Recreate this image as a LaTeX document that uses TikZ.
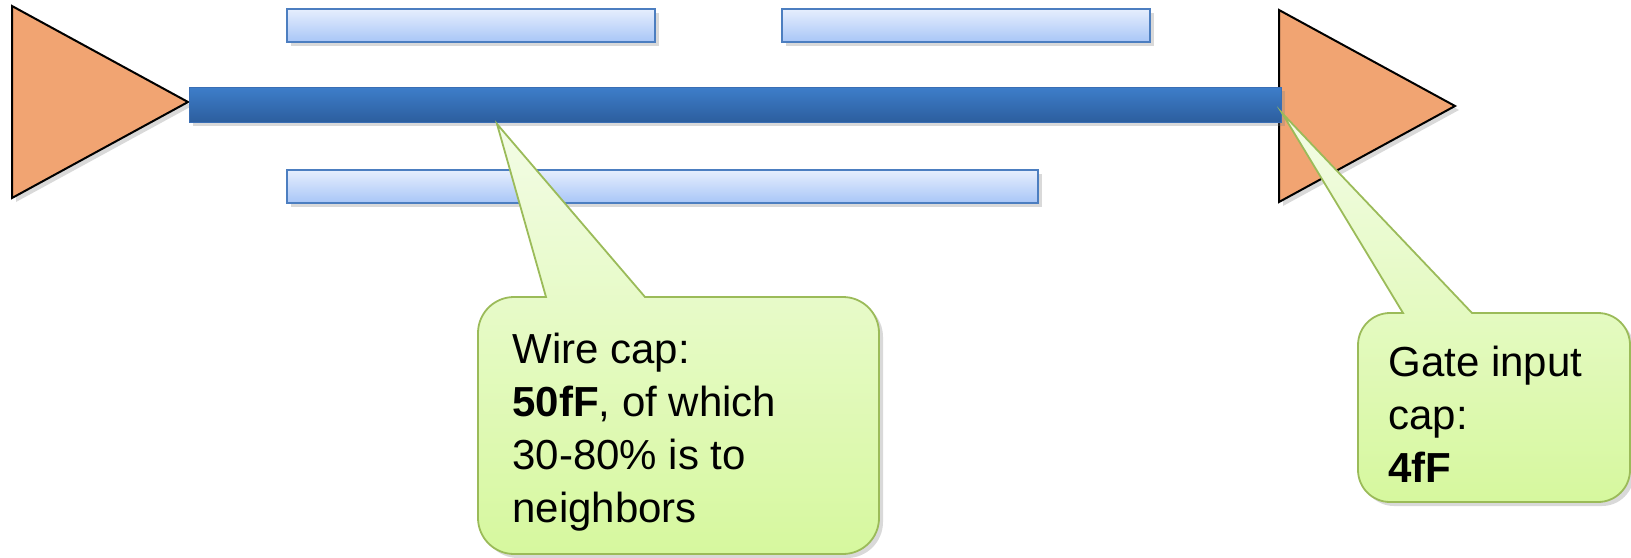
\documentclass[tikz,border=0pt]{standalone}
\usepackage{fontspec}
\setmainfont{Liberation Sans}
\usetikzlibrary{shadows}
\definecolor{gatefill}{RGB}{241,164,114}
\definecolor{wiretop}{RGB}{62,126,202}
\definecolor{wirebot}{RGB}{44,94,158}
\definecolor{wireline}{RGB}{58,110,180}
\definecolor{thintop}{RGB}{230,238,253}
\definecolor{thinbot}{RGB}{168,198,247}
\definecolor{thinline}{RGB}{76,126,192}
\definecolor{notetop}{RGB}{243,252,230}
\definecolor{notebot}{RGB}{214,248,158}
\definecolor{noteline}{RGB}{155,187,89}
\tikzset{
  softshadow/.style={drop shadow={opacity=0.3,shadow xshift=2pt,shadow yshift=-2pt}},
  gate/.style={fill=gatefill,draw=black,line width=1pt,line join=miter,softshadow},
  wire/.style={top color=wiretop,bottom color=wirebot,draw=wireline,line width=0.5pt,softshadow},
  thinwire/.style={top color=thintop,bottom color=thinbot,draw=thinline,line width=0.8pt,softshadow},
  note/.style={top color=notetop,bottom color=notebot,draw=noteline,line width=0.9pt,softshadow},
  notetext/.style={anchor=base west,align=left,inner sep=0pt,font=\fontsize{21pt}{26.5pt}\selectfont}
}
\begin{document}
\begin{tikzpicture}[x=0.5pt,y=-0.5pt]
\useasboundingbox (0,0) rectangle (1631,557);
% neighbour wires
\foreach \x/\y/\e in {287/9/655, 782/9/1150, 287/170/1038}
   \draw[thinwire] (\x,\y) rectangle (\e,\y+33);

% driver and receiver
\foreach \x/\y in {12/6, 1279/10}
   \draw[gate] (\x,\y) -- ++(176,96) -- ++(-176,96) -- cycle;

\draw[wire] (189,87) rectangle (1281,122);

\coordinate (wtip) at (497,124);
\coordinate (gtip) at (1282,113);

% callouts
\draw[note] (478,430) [rounded corners=18pt] -- (478,297)
   [sharp corners] -- (546,297) -- (wtip) -- (645,297)
   [rounded corners=18pt] -- (879,297) -- (879,554) -- (478,554)
   [sharp corners] -- cycle;
\draw[note] (1358,410) [rounded corners=16pt] -- (1358,313)
   [sharp corners] -- (1403,313) -- (gtip) -- (1472,313)
   [rounded corners=16pt] -- (1630,313) -- (1630,502) -- (1358,502)
   [sharp corners] -- cycle;

\node[notetext] (wirecap) at (512,522) {Wire cap:\\\textbf{50fF}, of which\\30-80\% is to\\neighbors};
\node[notetext] (gatecap) at (1388,482) {Gate input\\cap:\\\textbf{4fF}};
\end{tikzpicture}
\end{document}
